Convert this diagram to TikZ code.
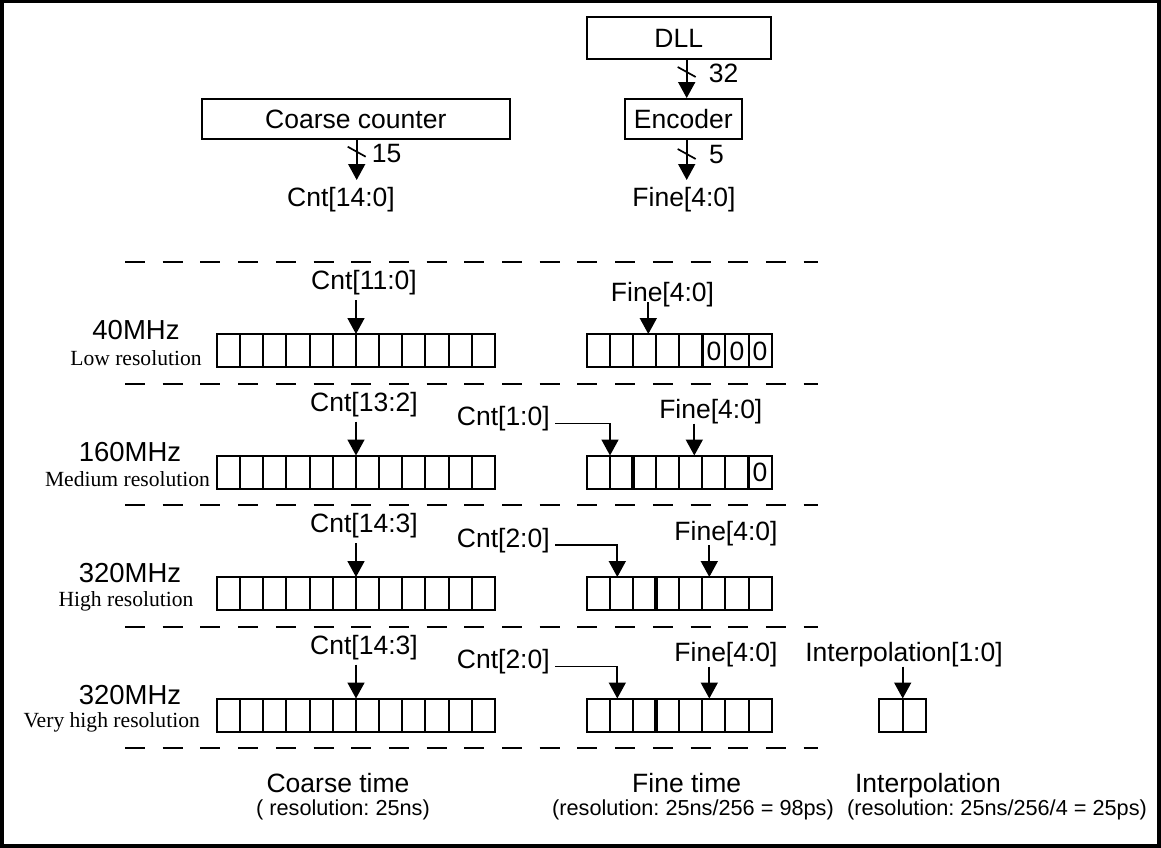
\documentclass[tikz,border=0pt]{standalone}
\usepackage{fontspec}
\setmainfont{Liberation Sans}
\newfontfamily\serifrm{Liberation Serif}
\usetikzlibrary{arrows.meta}
\frenchspacing
\tikzset{
  txtbig/.style={font=\fontsize{26.5}{30}\selectfont, inner sep=0pt},
  txtfreq/.style={font=\fontsize{27.5}{30}\selectfont, inner sep=0pt},
  txtsmall/.style={font=\fontsize{21.7}{25}\selectfont, inner sep=0pt},
  txtrm/.style={font=\serifrm\fontsize{21.6}{25}\selectfont, inner sep=0pt},
  blockbox/.style={draw, line width=2pt, inner sep=0pt, font=\fontsize{26.5}{30}\selectfont},
  arrw/.style={line width=1.7pt, -{Triangle[width=17pt,length=16pt]}},
  sepline/.style={line width=2pt, dash pattern=on 20pt off 17.7pt},
  cellbox/.style={draw, line width=2pt},
  thickdiv/.style={line width=3.5pt},
  slashln/.style={line width=1.7pt},
}
\begin{document}
\begin{tikzpicture}[x=1pt,y=-1pt]
\useasboundingbox (0,0) rectangle (1161,848);
\draw[line width=3.5pt] (1.75,1.75) rectangle (1159.2,846.2);

% ---------- top blocks ----------
\node[blockbox, minimum width=184pt, minimum height=42pt] (dll) at (678.7,38) {DLL};
\node[blockbox, minimum width=116.7pt, minimum height=40.3pt] (enc) at (683.3,119.2) {Encoder};
\node[blockbox, minimum width=308.3pt, minimum height=40.3pt] (cc) at (355.8,119.2) {Coarse counter};

\coordinate (cctip) at (356.7,180);
\draw[arrw] (cc.south -| cctip) -- (cctip);
\draw[slashln] (347.7,146.7) -- (365.7,156.7);
\node[txtbig] (n15) at (386.5,154) {15};
\node[txtbig] (cnt) at (341,199.5) {Cnt[14:0]};

\coordinate (dx) at (686.7,99);
\draw[arrw] (dll.south -| dx) -- (enc.north -| dx);
\draw[slashln] (677.7,67) -- (695.7,77);
\node[txtbig] (n32) at (723.5,73) {32};
\coordinate (fintip) at (686.7,180);
\draw[arrw] (enc.south -| fintip) -- (fintip);
\draw[slashln] (677.7,149) -- (695.7,159);
\node[txtbig] (n5) at (716.5,155) {5};
\node[txtbig] (fine0) at (684,199.5) {Fine[4:0]};

% ---------- dashed separators ----------
\foreach \d in {262,383.5,505,626.5,748}
  \draw[sepline] (125,\d) -- (818,\d);

% ---------- cell arrays ----------
\foreach \t in {334,455.5,577,698.5}{
  \foreach \i in {0,...,11}
    \draw[cellbox] ({217+\i*23.15},\t) rectangle ({217+(\i+1)*23.15},\t+33);
  \foreach \i in {0,...,7}
    \draw[cellbox] ({586.7+\i*23.125},\t) rectangle ({586.7+(\i+1)*23.125},\t+33);
}
\foreach \i in {0,1}
  \draw[cellbox] ({879.3+\i*23.35},698.5) rectangle ({879.3+(\i+1)*23.35},731.5);

% thick dividers
\draw[thickdiv] (702.3,334) -- (702.3,367);
\draw[thickdiv] (633,455.5) -- (633,488.5);
\draw[thickdiv] (748.6,455.5) -- (748.6,488.5);
\draw[thickdiv] (656.1,577) -- (656.1,610);
\draw[thickdiv] (656.1,698.5) -- (656.1,731.5);

% zeros
\node[txtbig] (z1) at (713.9,351) {0};
\node[txtbig] (z2) at (737.0,351) {0};
\node[txtbig] (z3) at (760.1,351) {0};
\node[txtbig] (z4) at (760.1,472.5) {0};

% ---------- row 1 ----------
\node[txtfreq] (f1) at (136,330.5) {40MHz};
\node[txtrm] (r1) at (136,358) {Low resolution};
\node[txtbig] (c1) at (364,283) {Cnt[11:0]};
\coordinate (c1s) at (356,300); \coordinate (c1e) at (356,334);
\draw[arrw] (c1s) -- (c1e);
\node[txtbig] (fn1) at (662.5,295) {Fine[4:0]};
\coordinate (fn1s) at (648.3,302); \coordinate (fn1e) at (648.3,334);
\draw[arrw] (fn1s) -- (fn1e);

% ---------- row 2 ----------
\node[txtfreq] (f2) at (130,452) {160MHz};
\node[txtrm] (r2) at (127.5,479.5) {Medium resolution};
\node[txtbig] (c2) at (364,404.5) {Cnt[13:2]};
\coordinate (c2s) at (356,421.5); \coordinate (c2e) at (356,455.5);
\draw[arrw] (c2s) -- (c2e);
\node[txtbig] (lc2) at (503.3,419) {Cnt[1:0]};
\coordinate (lc2a) at (555,423.5); \coordinate (lc2e) at (610,455.5);
\draw[arrw] (lc2a) -| (lc2e);
\node[txtbig] (fn2) at (710.8,412) {Fine[4:0]};
\coordinate (fn2s) at (694.3,423.5); \coordinate (fn2e) at (694.3,455.5);
\draw[arrw] (fn2s) -- (fn2e);

% ---------- row 3 ----------
\node[txtfreq] (f3) at (130,573.5) {320MHz};
\node[txtrm] (r3) at (126,601) {High resolution};
\node[txtbig] (c3) at (364,526) {Cnt[14:3]};
\coordinate (c3s) at (356,543); \coordinate (c3e) at (356,577);
\draw[arrw] (c3s) -- (c3e);
\node[txtbig] (lc3) at (503.3,540.5) {Cnt[2:0]};
\coordinate (lc3a) at (555,545); \coordinate (lc3e) at (617.3,577);
\draw[arrw] (lc3a) -| (lc3e);
\node[txtbig] (fn3) at (726,533.5) {Fine[4:0]};
\coordinate (fn3s) at (709.3,545); \coordinate (fn3e) at (709.3,577);
\draw[arrw] (fn3s) -- (fn3e);

% ---------- row 4 ----------
\node[txtfreq] (f4) at (130,695) {320MHz};
\node[txtrm] (r4) at (111.7,722.5) {Very high resolution};
\node[txtbig] (c4) at (364,647.5) {Cnt[14:3]};
\coordinate (c4s) at (356,664.5); \coordinate (c4e) at (356,698.5);
\draw[arrw] (c4s) -- (c4e);
\node[txtbig] (lc4) at (503.3,662) {Cnt[2:0]};
\coordinate (lc4a) at (555,666.5); \coordinate (lc4e) at (617.3,698.5);
\draw[arrw] (lc4a) -| (lc4e);
\node[txtbig] (fn4) at (726,655) {Fine[4:0]};
\coordinate (fn4s) at (709.3,666.5); \coordinate (fn4e) at (709.3,698.5);
\draw[arrw] (fn4s) -- (fn4e);
\node[txtbig] (ip4) at (904,655) {Interpolation[1:0]};
\coordinate (ip4s) at (902.7,666.5); \coordinate (ip4e) at (902.7,698.5);
\draw[arrw] (ip4s) -- (ip4e);

% ---------- bottom captions ----------
\node[txtbig] (ct) at (338,783) {Coarse time};
\node[txtsmall] (ctr) at (343,810) {( resolution: 25ns)};
\node[txtbig] (ft) at (686.7,783) {Fine time};
\node[txtsmall] (ftr) at (693,810) {(resolution: 25ns/256 = 98ps)};
\node[txtbig] (it) at (928,785.5) {Interpolation};
\node[txtsmall] (itr) at (997,810) {(resolution: 25ns/256/4 = 25ps)};
\end{tikzpicture}
\end{document}
